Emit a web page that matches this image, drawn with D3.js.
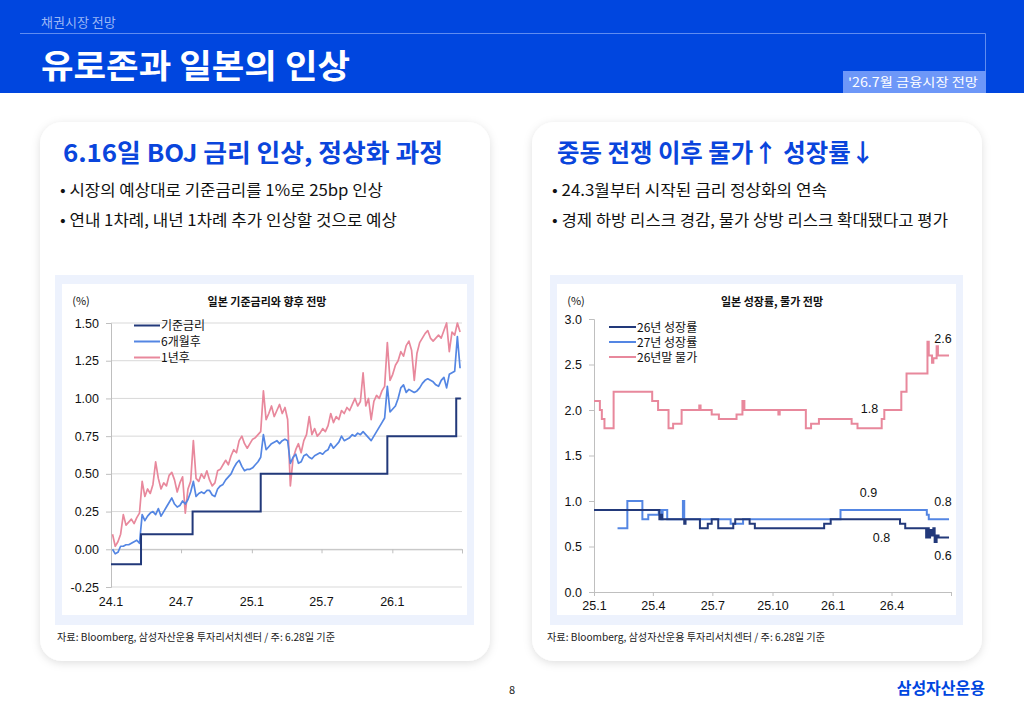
<!DOCTYPE html>
<html><head><meta charset="utf-8">
<script src="https://cdn.jsdelivr.net/npm/d3@7"></script>
<style>
html,body{margin:0;padding:0;background:#fff;}
svg{display:block;font-family:"Noto Sans CJK KR","Noto Sans",sans-serif;}
</style></head><body>
<svg id="c" width="1024" height="709"></svg>
<script>
// ---------------- DATA ----------------
// Left chart: BOJ policy rate (steps) and market-implied rate 6M / 1Y ahead
const policyDates = ["2024-01-01","2024-03-19","2024-07-31","2025-01-24","2025-12-19","2026-06-16","2026-06-28"];
const policyRate  = [-0.10, 0.10, 0.25, 0.50, 0.75, 1.00, 1.00];
const fwdFirstDate = "2024-01-05";   // weekly observations start
const fwdStepDays = 7;
const fwd6m = [
  0.00,-0.03,-0.02,0.02,0.02,0.03,0.03,0.04,0.05,0.06,
  0.04,0.23,0.19,0.22,0.24,0.25,0.23,0.27,0.22,0.25,
  0.28,0.31,0.34,0.30,0.28,0.29,0.32,0.30,0.33,0.38,
  0.45,0.35,0.37,0.38,0.37,0.39,0.39,0.36,0.35,0.40,
  0.42,0.43,0.46,0.48,0.50,0.54,0.57,0.59,0.55,0.52,
  0.53,0.53,0.54,0.56,0.58,0.61,0.76,0.66,0.68,0.70,
  0.71,0.72,0.70,0.72,0.73,0.72,0.57,0.61,0.63,0.57,
  0.58,0.62,0.63,0.61,0.60,0.62,0.63,0.64,0.63,0.65,
  0.66,0.70,0.67,0.69,0.71,0.75,0.72,0.73,0.74,0.76,
  0.75,0.77,0.76,0.78,0.76,0.74,0.72,0.75,0.78,0.81,
  0.84,0.87,1.08,0.91,0.93,0.95,1.00,1.07,1.09,1.04,
  1.06,1.05,1.04,1.05,1.07,1.10,1.12,1.13,1.12,1.11,
  1.09,1.08,1.12,1.14,1.07,1.16,1.17,1.18,1.41,1.20
];
const fwd1y = [
  0.10,0.02,0.05,0.10,0.23,0.16,0.18,0.20,0.17,0.21,
  0.24,0.45,0.35,0.40,0.37,0.43,0.58,0.47,0.40,0.44,
  0.42,0.49,0.51,0.46,0.38,0.44,0.48,0.24,0.40,0.45,
  0.72,0.47,0.45,0.50,0.47,0.52,0.46,0.42,0.44,0.52,
  0.53,0.56,0.59,0.56,0.62,0.66,0.64,0.72,0.75,0.70,
  0.67,0.70,0.73,0.74,0.76,0.78,1.05,0.86,0.90,0.95,
  0.88,0.92,0.96,0.90,0.94,0.86,0.42,0.60,0.66,0.70,
  0.64,0.72,0.76,0.88,0.76,0.80,0.75,0.77,0.80,0.78,
  0.82,0.90,0.84,0.88,0.86,0.92,0.90,0.94,0.92,0.96,
  1.00,0.95,0.98,1.17,0.95,1.00,0.86,0.98,1.02,1.00,
  1.05,1.08,1.37,1.12,1.16,1.22,1.25,1.31,1.28,1.35,
  1.38,1.32,1.12,1.30,1.37,1.40,1.43,1.45,1.40,1.38,
  1.40,1.42,1.40,1.45,1.50,1.31,1.44,1.42,1.50,1.44
];
const leftYTicks = [-0.25, 0.00, 0.25, 0.50, 0.75, 1.00, 1.25, 1.50];
const leftYLabels = ["-0.25","0.00","0.25","0.50","0.75","1.00","1.25","1.50"];
const leftXTicks = ["2024-01-01","2024-07-01","2025-01-01","2025-07-01","2026-01-01","2026-07-01"];
const leftXLabels = ["24.1","24.7","25.1","25.7","26.1",""];
const leftSeriesNames = ["기준금리","6개월후","1년후"];

// Right chart: Japan 2026/2027 growth and end-2026 CPI forecasts (step changes)
const growth26Dates = ["2025-01-01","2025-04-11","2025-04-13","2025-04-15","2025-05-19","2025-05-21","2025-06-12","2025-06-24","2025-06-30","2025-07-10","2025-08-02","2025-08-05","2025-08-07","2025-08-27","2025-09-04","2025-12-19","2025-12-29","2026-04-14","2026-04-22","2026-05-24","2026-05-26","2026-05-28","2026-05-30","2026-06-02","2026-06-04","2026-06-06","2026-06-09","2026-06-12","2026-06-28"];
const growth26      = [0.9, 0.8, 0.85, 0.8, 0.75, 0.8, 0.7, 0.75, 0.8, 0.7, 0.75, 0.8, 0.8, 0.75, 0.7, 0.75, 0.8, 0.75, 0.7, 0.6, 0.7, 0.6, 0.68, 0.62, 0.7, 0.55, 0.62, 0.6, 0.6];
const growth27Dates = ["2025-02-06","2025-02-21","2025-03-16","2025-03-25","2025-04-10","2025-04-14","2025-04-16","2025-04-23","2025-05-17","2025-05-19","2025-07-29","2025-08-17","2026-01-13","2026-05-25","2026-05-28","2026-06-28"];
const growth27      = [0.7, 1.0, 0.8, 0.85, 0.9, 0.8, 0.9, 0.8, 1.0, 0.8, 0.75, 0.8, 0.9, 0.85, 0.8, 0.8];
const cpi26Dates = ["2025-01-01","2025-01-10","2025-01-13","2025-01-17","2025-01-31","2025-03-31","2025-04-09","2025-04-25","2025-05-02","2025-05-15","2025-06-11","2025-06-13","2025-06-30","2025-07-11","2025-08-07","2025-08-16","2025-08-19","2025-10-10","2025-10-12","2025-11-21","2025-11-29","2025-12-11","2026-01-30","2026-02-08","2026-03-17","2026-03-21","2026-04-16","2026-04-24","2026-05-26","2026-05-28","2026-06-02","2026-06-04","2026-06-09","2026-06-11","2026-06-28"];
const cpi26      = [2.1, 2.0, 1.9, 1.8, 2.2, 2.1, 2.0, 1.8, 1.85, 2.0, 2.05, 2.0, 1.95, 1.9, 1.95, 2.1, 2.0, 1.95, 2.0, 1.8, 1.85, 1.9, 1.85, 1.8, 1.9, 2.0, 2.2, 2.4, 2.75, 2.6, 2.52, 2.57, 2.7, 2.6, 2.6];
const rightYTicks = [0.0, 0.5, 1.0, 1.5, 2.0, 2.5, 3.0];
const rightYLabels = ["0.0","0.5","1.0","1.5","2.0","2.5","3.0"];
const rightXTicks = ["2025-01-01","2025-04-01","2025-07-01","2025-10-01","2026-01-01","2026-04-01","2026-07-01"];
const rightXLabels = ["25.1","25.4","25.7","25.10","26.1","26.4",""];
const rightSeriesNames = ["26년 성장률","27년 성장률","26년말 물가"];
const rightAnnotations = [
  {text:"2.6", date:"2026-06-28", value:2.6, dx:-6, dy:-12},
  {text:"1.8", date:"2026-02-08", value:1.8, dx:12, dy:-15},
  {text:"0.9", date:"2026-02-08", value:0.9, dx:11, dy:-13},
  {text:"0.8", date:"2026-06-28", value:0.8, dx:-6, dy:-13},
  {text:"0.8", date:"2026-02-08", value:0.8, dx:24, dy:23},
  {text:"0.6", date:"2026-06-28", value:0.6, dx:-6, dy:23}
];

// ---------------- DRAW ----------------
const parse = d3.utcParse("%Y-%m-%d");
const svg = d3.select("#c");
const NAVY = "#22397a", BLUE = "#5486e3", PINK = "#e8889c";
const NUMFONT = "'Liberation Sans', Arial, sans-serif";

// stretch/shrink a text to a measured width
function fit(sel, w){ sel.attr("textLength", w).attr("lengthAdjust","spacingAndGlyphs"); return sel; }

const defs = svg.append("defs");
const f = defs.append("filter").attr("id","sh").attr("x","-10%").attr("y","-10%").attr("width","120%").attr("height","120%");
f.append("feDropShadow").attr("dx",0).attr("dy",2).attr("stdDeviation",4).attr("flood-color","#000").attr("flood-opacity",0.13);

svg.append("rect").attr("width",1024).attr("height",709).attr("fill","#fff");

// header
svg.append("rect").attr("x",0).attr("y",0).attr("width",1024).attr("height",93).attr("fill","#0046df");
svg.append("text").attr("x",41).attr("y",27).attr("fill","#9bb6f5").attr("font-size",13).text("채권시장 전망");
svg.append("path").attr("d","M20,33.5H985.5V71").attr("fill","none").attr("stroke","#5f8cf0").attr("stroke-width",1);
fit(svg.append("text").attr("x",41).attr("y",78).attr("fill","#fff").attr("font-size",33).attr("font-weight",700).text("유로존과 일본의 인상"), 309);
svg.append("rect").attr("x",843).attr("y",71).attr("width",143).attr("height",22).attr("fill","#6d97f8");
fit(svg.append("text").attr("x",848).attr("y",87).attr("fill","#fff").attr("font-size",12.5).text("'26.7월 금융시장 전망"), 130);

// cards
const cards = [
  {x:40, title:"6.16일 BOJ 금리 인상, 정상화 과정", tx:63, tw:380,
   bullets:["시장의 예상대로 기준금리를 1%로 25bp 인상","연내 1차례, 내년 1차례 추가 인상할 것으로 예상"], bx:60, bw:[323,337], fx:57},
  {x:532, title:"중동 전쟁 이후 물가↑ 성장률↓", tx:557, tw:318,
   bullets:["24.3월부터 시작된 금리 정상화의 연속","경제 하방 리스크 경감, 물가 상방 리스크 확대됐다고 평가"], bx:552, bw:[275,396], fx:547}
];
cards.forEach(c => {
  svg.append("rect").attr("x",c.x).attr("y",122).attr("width",450).attr("height",539).attr("rx",22)
    .attr("fill","#fff").attr("filter","url(#sh)");
  fit(svg.append("text").attr("x",c.tx).attr("y",162).attr("fill","#0a45dc").attr("font-size",24.5).attr("font-weight",700).text(c.title), c.tw);
  c.bullets.forEach((b,i) => {
    fit(svg.append("text").attr("x",c.bx).attr("y",196+i*29.5).attr("fill","#111").attr("font-size",15.5).text("• "+b), c.bw[i]);
  });
  fit(svg.append("text").attr("x",c.fx).attr("y",641).attr("fill","#222").attr("font-size",10.5)
    .text("자료: Bloomberg, 삼성자산운용 투자리서치센터 / 주: 6.28일 기준"), 278);
});

// footer
svg.append("text").attr("x",512).attr("y",694).attr("text-anchor","middle").attr("font-size",11).attr("fill","#222").text("8");
svg.append("text").attr("x",985).attr("y",694).attr("text-anchor","end").attr("font-size",16).attr("font-weight",700).attr("fill","#0046df").text("삼성자산운용");

// chart frames
function frame(x0,x1){
  svg.append("rect").attr("x",x0).attr("y",275).attr("width",x1-x0).attr("height",350).attr("fill","#edf2fd");
  svg.append("rect").attr("x",x0+7).attr("y",284).attr("width",x1-x0-14).attr("height",331).attr("fill","#fff");
}
frame(55,474);
frame(550,963);

// ---------- LEFT CHART ----------
{
  const x = d3.scaleUtc().domain([parse("2024-01-01"), parse("2026-07-01")]).range([111, 462]);
  const y = d3.scaleLinear().domain([-0.25, 1.50]).range([587, 323]);
  const g = svg.append("g");
  g.selectAll("line.grid").data(leftYTicks).join("line")
    .attr("x1",111).attr("x2",462).attr("y1",d=>y(d)).attr("y2",d=>y(d))
    .attr("stroke","#d9d9d9").attr("stroke-width",1);
  const ya = g.append("g").attr("transform","translate(111,0)")
    .call(d3.axisLeft(y).tickValues(leftYTicks).tickSize(5).tickPadding(7).tickFormat((d,i)=>leftYLabels[i]));
  ya.select(".domain").attr("stroke","#bfbfbf");
  ya.selectAll(".tick line").attr("stroke","#bfbfbf");
  ya.selectAll("text").attr("font-family",NUMFONT).attr("font-size",12.5).attr("fill","#111");
  const xa = g.append("g").attr("transform",`translate(0,${y(0)})`)
    .call(d3.axisBottom(x).tickValues(leftXTicks.map(parse)).tickSize(4).tickFormat(""));
  xa.select(".domain").attr("stroke","#bfbfbf");
  xa.selectAll(".tick line").attr("stroke","#bfbfbf");
  g.selectAll("text.xl").data(leftXTicks).join("text")
    .attr("x",d=>x(parse(d))).attr("y",606).attr("text-anchor","middle")
    .attr("font-family",NUMFONT).attr("font-size",12.5).attr("fill","#111")
    .text((d,i)=>leftXLabels[i]);

  const fwdDates = fwd6m.map((v,i)=>d3.utcDay.offset(parse(fwdFirstDate), i*fwdStepDays));
  const line = d3.line().x(d=>x(d[0])).y(d=>y(d[1]));
  g.append("path").datum(fwd1y.map((v,i)=>[fwdDates[i],v])).attr("d",line)
    .attr("fill","none").attr("stroke",PINK).attr("stroke-width",1.7).attr("stroke-linejoin","round");
  g.append("path").datum(fwd6m.map((v,i)=>[fwdDates[i],v])).attr("d",line)
    .attr("fill","none").attr("stroke",BLUE).attr("stroke-width",1.7).attr("stroke-linejoin","round");
  g.append("path").datum(policyDates.map((d,i)=>[parse(d),policyRate[i]])).attr("d",line.curve(d3.curveStepAfter))
    .attr("fill","none").attr("stroke",NAVY).attr("stroke-width",2);

  svg.append("text").attr("x",81).attr("y",305).attr("text-anchor","middle").attr("font-size",11).attr("fill","#111").text("(%)");
  svg.append("text").attr("x",267).attr("y",306).attr("text-anchor","middle").attr("font-size",11).attr("font-weight",700).attr("fill","#111").text("일본 기준금리와 향후 전망");

  const cols = [NAVY, BLUE, PINK];
  leftSeriesNames.forEach((n,i)=>{
    const yy = 325.5 + i*16;
    svg.append("line").attr("x1",134).attr("x2",160).attr("y1",yy).attr("y2",yy).attr("stroke",cols[i]).attr("stroke-width",2);
    svg.append("text").attr("x",161).attr("y",yy+4.5).attr("font-size",12).attr("fill","#111").text(n);
  });
}

// ---------- RIGHT CHART ----------
{
  const x = d3.scaleUtc().domain([parse("2025-01-01"), parse("2026-07-01")]).range([594, 951]);
  const y = d3.scaleLinear().domain([0, 3]).range([592, 319]);
  const g = svg.append("g");
  const ya = g.append("g").attr("transform","translate(594,0)")
    .call(d3.axisLeft(y).tickValues(rightYTicks).tickSize(5).tickPadding(7).tickFormat((d,i)=>rightYLabels[i]));
  ya.select(".domain").attr("stroke","#bfbfbf");
  ya.selectAll(".tick line").attr("stroke","#bfbfbf");
  ya.selectAll("text").attr("font-family",NUMFONT).attr("font-size",12.5).attr("fill","#111");
  const xa = g.append("g").attr("transform",`translate(0,${y(0)})`)
    .call(d3.axisBottom(x).tickValues(rightXTicks.map(parse)).tickSize(4).tickPadding(5).tickFormat((d,i)=>rightXLabels[i]));
  xa.select(".domain").attr("stroke","#bfbfbf");
  xa.selectAll(".tick line").attr("stroke","#bfbfbf");
  xa.selectAll("text").attr("font-family",NUMFONT).attr("font-size",12.5).attr("fill","#111");

  const line = d3.line().x(d=>x(d[0])).y(d=>y(d[1])).curve(d3.curveStepAfter);
  const series = [
    {dates:cpi26Dates, vals:cpi26, col:PINK},
    {dates:growth27Dates, vals:growth27, col:BLUE},
    {dates:growth26Dates, vals:growth26, col:NAVY}
  ];
  series.forEach(s=>{
    g.append("path").datum(s.dates.map((d,i)=>[parse(d),s.vals[i]])).attr("d",line)
      .attr("fill","none").attr("stroke",s.col).attr("stroke-width",2);
  });
  rightAnnotations.forEach(a=>{
    g.append("text").attr("x",x(parse(a.date))+a.dx).attr("y",y(a.value)+a.dy).attr("text-anchor","middle")
      .attr("font-family",NUMFONT).attr("font-size",12.5).attr("fill","#111").text(a.text);
  });

  svg.append("text").attr("x",576).attr("y",305).attr("text-anchor","middle").attr("font-size",11).attr("fill","#111").text("(%)");
  svg.append("text").attr("x",772).attr("y",306).attr("text-anchor","middle").attr("font-size",11).attr("font-weight",700).attr("fill","#111").text("일본 성장률, 물가 전망");

  const cols = [NAVY, BLUE, PINK];
  rightSeriesNames.forEach((n,i)=>{
    const yy = 327 + i*15;
    svg.append("line").attr("x1",609).attr("x2",636).attr("y1",yy).attr("y2",yy).attr("stroke",cols[i]).attr("stroke-width",2);
    svg.append("text").attr("x",637).attr("y",yy+4.5).attr("font-size",12).attr("fill","#111").text(n);
  });
}
</script>
</body></html>
